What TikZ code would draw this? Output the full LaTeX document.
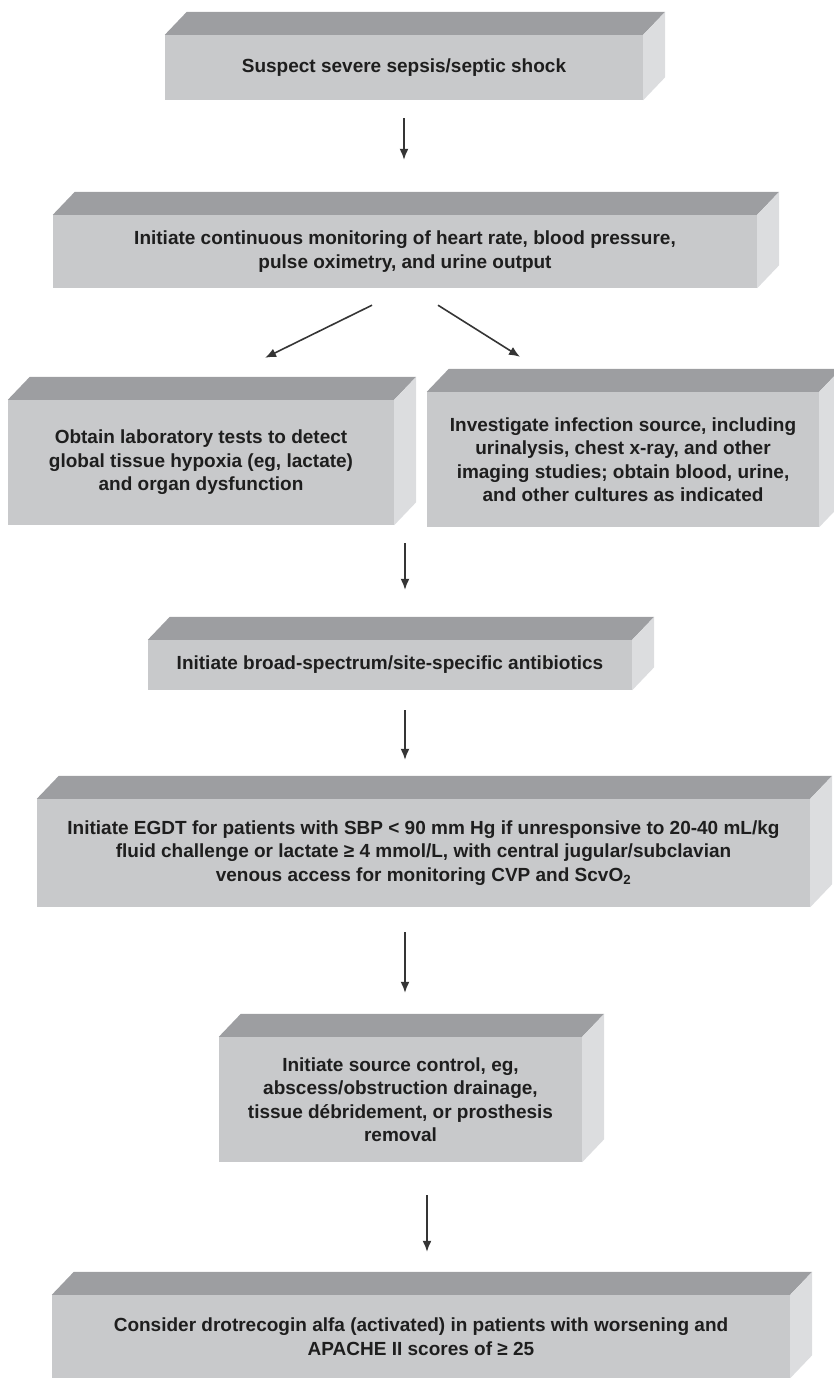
\documentclass[tikz,border=0pt]{standalone}
\usepackage{fontspec}
\setmainfont{Liberation Sans}
\usepackage{tikz}
\usetikzlibrary{arrows.meta,calc}
\definecolor{frontgray}{HTML}{C8C9CB}
\definecolor{topgray}{HTML}{9D9EA1}
\definecolor{sidegray}{HTML}{DCDDDF}
\definecolor{inkgray}{HTML}{1E1E1E}
\newcommand{\slabdx}{22}
\newcommand{\slabdy}{23}
\newcommand{\slab}[1]{%
  \fill[topgray] (#1.north west) -- (#1.north east) -- ($(#1.north east)+(\slabdx,-\slabdy)$) -- ($(#1.north west)+(\slabdx,-\slabdy)$) -- cycle;
  \fill[sidegray] (#1.north east) -- (#1.south east) -- ($(#1.south east)+(\slabdx,-\slabdy)$) -- ($(#1.north east)+(\slabdx,-\slabdy)$) -- cycle;}

\begin{document}
\begin{tikzpicture}[x=1pt, y=-1pt,
	front/.style={fill=frontgray, inner sep=0pt, align=center, text=inkgray,
		font=\bfseries\fontsize{19}{23.5}\selectfont},
	flow/.style={-{Latex[length=11pt,width=9pt]}, line width=1.6pt, draw=inkgray!90}]
	\useasboundingbox (0,0) rectangle (833,1378);
	\node[front, minimum width=478pt, minimum height=65pt] (b1) at (404,67.5)
		{Suspect severe sepsis/septic shock};
	\node[front, minimum width=704pt, minimum height=73pt] (b2) at (405,251.5)
		{Initiate continuous monitoring of heart rate, blood pressure,\\ pulse oximetry, and urine output};
	\node[front, minimum width=386pt, minimum height=125pt] (b3) at (201,462.5)
		{Obtain laboratory tests to detect\\ global tissue hypoxia (eg, lactate)\\ and organ dysfunction};
	\node[front, minimum width=392pt, minimum height=135pt] (b4) at (623,459.5)
		{Investigate infection source, including\\ urinalysis, chest x-ray, and other\\ imaging studies; obtain blood, urine,\\ and other cultures as indicated};
	\node[front, minimum width=484pt, minimum height=50pt] (b5) at (390,665)
		{Initiate broad-spectrum/site-specific antibiotics};
	\node[front, minimum width=773pt, minimum height=108pt] (b6) at (423.5,853)
		{Initiate EGDT for patients with SBP < 90 mm Hg if unresponsive to 20-40 mL/kg\\ fluid challenge or lactate ≥ 4 mmol/L, with central jugular/subclavian\\ venous access for monitoring CVP and ScvO\textsubscript{2}};
	\node[front, minimum width=363pt, minimum height=125pt] (b7) at (400.5,1099.5)
		{Initiate source control, eg,\\ abscess/obstruction drainage,\\ tissue débridement, or prosthesis\\ removal};
	\node[front, minimum width=738pt, minimum height=83pt] (b8) at (421,1336.5)
		{Consider drotrecogin alfa (activated) in patients with worsening and\\ APACHE II scores of ≥ 25};
	\foreach \b in {b1,b2,b3,b4,b5,b6,b7,b8}
		\slab{\b};
	% arrows
	\draw[flow, shorten <=18pt, shorten >=55pt] (b1.south) -- (b1.south |- b2.north);
	\draw[flow] ($(b2.south)+(-33,17)$) -- ($(b3.north)+(64,-42)$);
	\draw[flow] ($(b2.south)+(33,17)$) -- ($(b4.north)+(-103,-35)$);
	\draw[flow, shorten <=18pt, shorten >=50pt] (b2.south |- b3.south) -- (b2.south |- b5.north);
	\draw[flow, shorten <=20pt, shorten >=39pt] (b2.south |- b5.south) -- (b2.south |- b6.north);
	\draw[flow, shorten <=25pt, shorten >=44pt] (b2.south |- b6.south) -- (b2.south |- b7.north);
	\draw[flow, shorten <=33pt, shorten >=43pt] ($(b8.north |- b7.south)+(6,0)$) -- ($(b8.north)+(6,0)$);
\end{tikzpicture}
\end{document}
